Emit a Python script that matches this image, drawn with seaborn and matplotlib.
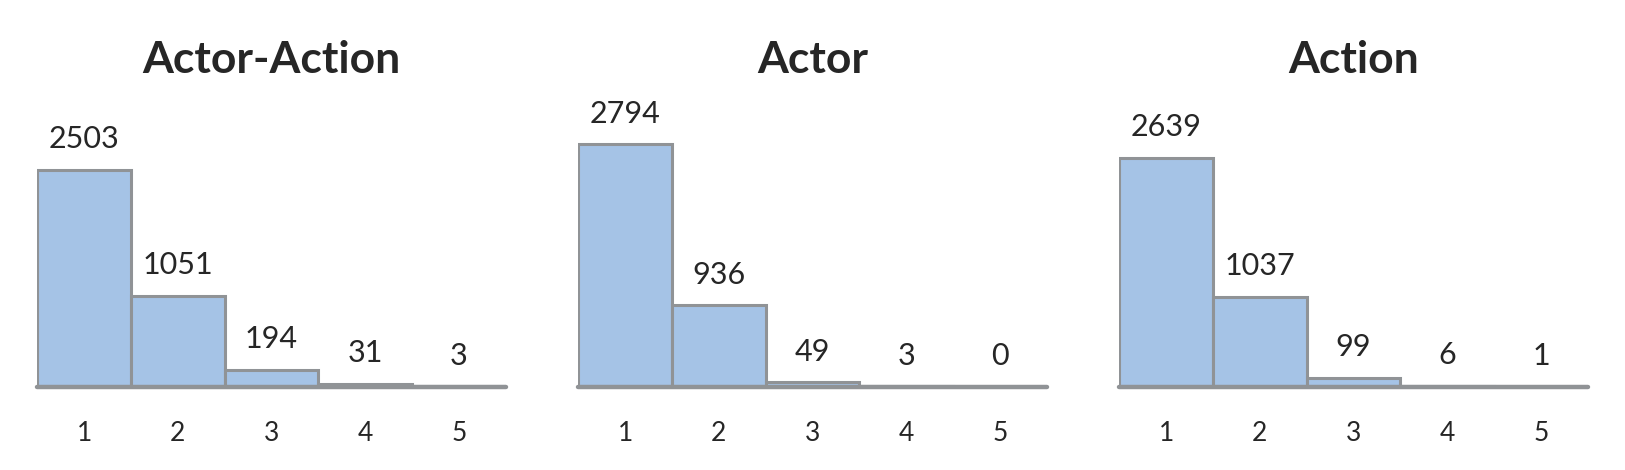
import matplotlib
matplotlib.use("Agg")
import matplotlib.pyplot as plt
import seaborn as sns
import pandas as pd

# ── data ────────────────────────────────────────────
CATEGORIES = ["1", "2", "3", "4", "5"]
ACTOR_ACTION = [2503, 1051, 194, 31, 3]
ACTOR = [2794, 936, 49, 3, 0]
ACTION = [2639, 1037, 99, 6, 1]
TITLES = ["Actor-Action", "Actor", "Action"]
SERIES = [ACTOR_ACTION, ACTOR, ACTION]

sns.set_style("white")
plt.rcParams["font.family"] = ["Lato", "DejaVu Sans"]

FILL = "#a5c3e6"
EDGE = "#909396"
TEXT = "#262626"

fig = plt.figure(figsize=(16.25, 4.7), dpi=100)
lefts = [37.3, 578.3, 1119.3]
W, H = 1625, 470
ax_w = 468.5
base_y = 386.6
ax_h = 260

for left, title, vals in zip(lefts, TITLES, SERIES):
    ax = fig.add_axes([left / W, 1 - base_y / H, ax_w / W, ax_h / H])
    df = pd.DataFrame({"k": CATEGORIES, "n": vals})
    sns.barplot(data=df, x="k", y="n", color=FILL, saturation=1, width=1,
                edgecolor=EDGE, linewidth=2.2, ax=ax)
    ax.set_xlim(-0.5, 4.5)
    ax.set_ylim(0, 3000)
    ax.axhline(0, color=EDGE, lw=3.2, zorder=5, clip_on=False)
    for i, v in enumerate(vals):
        ax.annotate(str(v), (i, v), xytext=(0, 12), textcoords="offset points",
                    ha="center", va="bottom", fontsize=22, color=TEXT)
    ax.text(0.5, 1.256, title, transform=ax.transAxes, ha="center", va="center",
            fontsize=32, fontweight="bold", color=TEXT)
    sns.despine(ax=ax, left=True, bottom=True)
    ax.set_yticks([])
    ax.set_xlabel("")
    ax.set_ylabel("")
    ax.tick_params(axis="x", length=0, pad=25, labelsize=19, labelcolor=TEXT)

fig.savefig("out.png", dpi=100)
